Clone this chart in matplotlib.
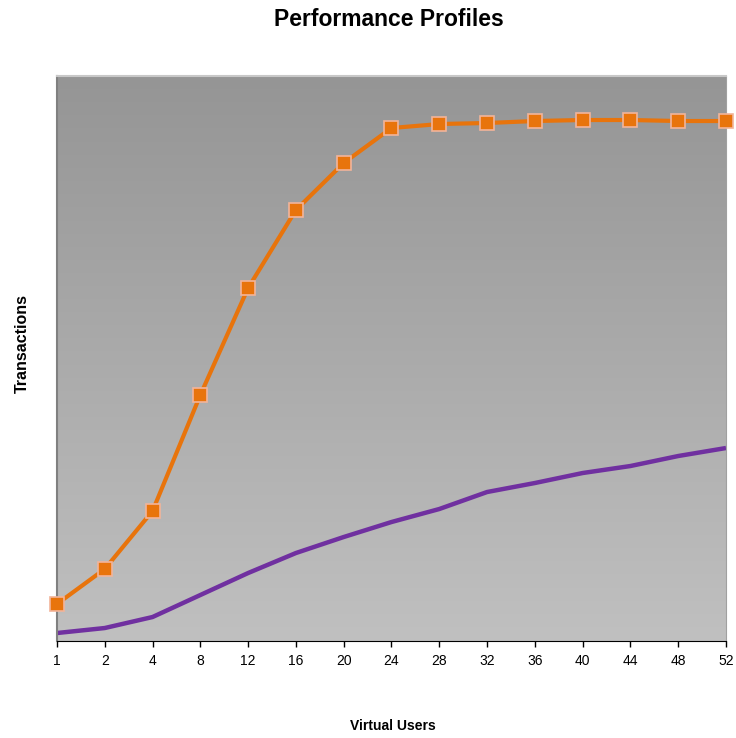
import numpy as np
import matplotlib.pyplot as plt
from matplotlib.colors import LinearSegmentedColormap

plt.rcParams['font.family'] = ['Liberation Sans', 'DejaVu Sans']

users = ["1", "2", "4", "8", "12", "16", "20", "24", "28", "32", "36", "40", "44", "48", "52"]
orange_tx = [37, 72, 130, 246, 353, 431, 478, 513, 517, 518, 520, 521, 521, 520, 520]
purple_tx = [8, 13, 24, 46, 68, 88, 104, 119, 132, 149, 158, 168, 175, 185, 193]

fig = plt.figure(figsize=(7.36, 7.38), dpi=100)
ax = fig.add_axes([0.0774, 0.1314, 0.909, 0.7656])

x = np.arange(len(users))
ymax = 565

# vertical gray gradient background
grad = np.linspace(0, 1, 256).reshape(-1, 1)
cmap = LinearSegmentedColormap.from_list("g", ["#c0c0c0", "#959595"])
ax.imshow(grad, cmap=cmap, origin="lower", aspect="auto",
          extent=[0, len(users) - 1, 0, ymax], zorder=0)

ax.plot(x, purple_tx, color="#7030a0", lw=3.2, solid_capstyle="butt", zorder=2)
ax.plot(x, orange_tx, color="#e8740c", lw=3, marker="s", ms=10,
        mfc="#e8740c", mec="#f2b49a", mew=1.2, zorder=3, clip_on=False)

ax.set_xlim(0, len(users) - 1)
ax.set_ylim(0, ymax)
ax.set_xticks(x)
ax.set_xticklabels(users, fontsize=10)
ax.set_yticks([])
ax.tick_params(axis="x", length=4, width=1, color="black", pad=5)

ax.spines["bottom"].set_color("black")
ax.spines["left"].set_color("#808080")
ax.spines["left"].set_linewidth(1.5)
ax.spines["right"].set_color("#a0a0a0")
ax.spines["top"].set_color("#c8c8c8")
ax.spines["top"].set_linewidth(1.5)

fig.text(0.528, 0.973, "Performance Profiles", ha="center", va="center",
         fontsize=16.5, fontweight="bold")
fig.text(0.534, 0.016, "Virtual Users", ha="center", va="center",
         fontsize=10, fontweight="bold")
fig.text(0.03, 0.534, "Transactions", ha="center", va="center",
         fontsize=11.5, fontweight="bold", rotation=90)

plt.savefig("out.png", dpi=100)
